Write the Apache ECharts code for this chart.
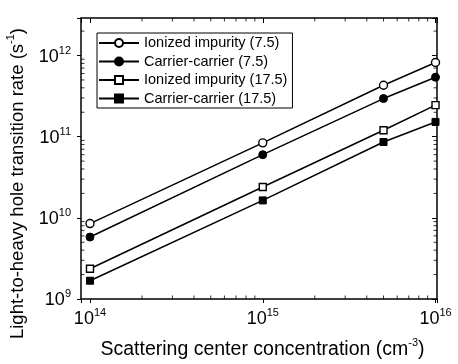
<!DOCTYPE html>
<html>
<head>
<meta charset="utf-8">
<script src="https://cdn.jsdelivr.net/npm/echarts@6/dist/echarts.min.js"></script>
<style>
html,body{margin:0;padding:0;background:#fff}
#chart{width:458px;height:364px}
</style>
</head>
<body>
<div id="chart"></div>
<script>
// data
var concentration = [1e14, 1e15, 5e15, 1e16];
var ionized75 = [8.5e9, 8.4e10, 4.3e11, 8.2e11];
var carrier75 = [5.8e9, 6.0e10, 2.95e11, 5.4e11];
var ionized175 = [2.36e9, 2.4e10, 1.2e11, 2.45e11];
var carrier175 = [1.68e9, 1.64e10, 8.6e10, 1.52e11];
var seriesNames = ['Ionized impurity (7.5)', 'Carrier-carrier (7.5)', 'Ionized impurity (17.5)', 'Carrier-carrier (17.5)'];

var xMin = 8.87e13, xMax = 1.02e16;
var yMin = 1e9, yMax = 2.9e12;
var xDecades = [1e14, 1e15];
var yDecades = [1e9, 1e10, 1e11, 1e12];

// minor ticks 2..9 in each decade
var xMinorTicks = [];
xDecades.forEach(function (d) {
    for (var k = 2; k <= 9; k++) xMinorTicks.push(k * d);
});
var yMinorTicks = [];
yDecades.forEach(function (d) {
    for (var k = 2; k <= 9; k++) if (k * d < yMax) yMinorTicks.push(k * d);
});

var font = 'Liberation Sans, Arial, sans-serif';

function powLabel(v) {
    var lg = Math.log10(v);
    var e = Math.round(lg);
    if (Math.abs(lg - e) > 1e-6) return '';
    return '{b|10}{e|' + e + '}';
}
var powRich = {
    b: {fontSize: 18, fontFamily: font, color: '#000', padding: [3, 0, 0, 0]},
    e: {fontSize: 11, fontFamily: font, color: '#000', verticalAlign: 'top'}
};

function pairs(ys) {
    return concentration.map(function (x, i) { return [x, ys[i]]; });
}

// short tick marks drawn as thin rect symbols sitting on the frame
function tickSeries(data, size, offset) {
    return {
        type: 'scatter', silent: true, clip: false, z: 4,
        symbol: 'rect', symbolSize: size, symbolOffset: offset,
        itemStyle: {color: '#000'},
        data: data
    };
}

var lineStyle = {color: '#000', width: 1.5};
var openStyle = {color: '#fff', borderColor: '#000', borderWidth: 1.4};
var fillStyle = {color: '#000', borderColor: '#000', borderWidth: 1};
var axisLine = {show: true, lineStyle: {color: '#000', width: 1.5}};

var option = {
    backgroundColor: '#fff',
    animation: false,
    textStyle: {fontFamily: font},
    grid: {left: 81, right: 21, top: 18, bottom: 65, outerBoundsMode: 'none'},
    legend: {
        data: seriesNames,
        orient: 'vertical',
        left: 97,
        top: 33,
        itemWidth: 40,
        itemHeight: 10,
        itemGap: 3.5,
        padding: [2.5, 5, 2, 1],
        borderColor: '#000',
        borderWidth: 1,
        textStyle: {fontSize: 14.5, color: '#000', fontFamily: font, lineHeight: 15}
    },
    xAxis: [{
        type: 'log',
        min: xMin,
        max: xMax,
        position: 'bottom',
        name: '{t|Scattering center concentration (cm}{s|-3}{t|)}',
        nameLocation: 'middle',
        nameGap: 38,
        nameTextStyle: {
            padding: [0, 0, 0, 7],
            rich: {
                t: {fontSize: 19.5, fontFamily: font, color: '#000', padding: [3, 0, 0, 0]},
                s: {fontSize: 11, fontFamily: font, color: '#000', verticalAlign: 'top'}
            }
        },
        axisLine: axisLine,
        axisTick: {show: true, inside: false, length: 4, lineStyle: {color: '#000', width: 1}},
        axisLabel: {margin: 8, formatter: powLabel, rich: powRich},
        splitLine: {show: false},
        minorTick: {show: false}
    }, {
        type: 'log',
        min: xMin,
        max: xMax,
        position: 'top',
        axisLine: axisLine,
        axisTick: {show: true, inside: true, length: 5, lineStyle: {color: '#000', width: 1}},
        axisLabel: {show: false},
        splitLine: {show: false}
    }],
    yAxis: [{
        type: 'log',
        min: yMin,
        max: yMax,
        position: 'left',
        name: '{t|Light-to-heavy hole transition rate (s}{s|-1}{t|)}',
        nameLocation: 'middle',
        nameGap: 32,
        nameTextStyle: {
            padding: [0, 50, 0, 0],
            rich: {
                t: {fontSize: 18.5, fontFamily: font, color: '#000', padding: [3, 0, 0, 0]},
                s: {fontSize: 11, fontFamily: font, color: '#000', verticalAlign: 'top'}
            }
        },
        axisLine: axisLine,
        axisTick: {show: true, inside: false, length: 4, lineStyle: {color: '#000', width: 1}},
        axisLabel: {margin: 10, formatter: powLabel, rich: powRich},
        splitLine: {show: false},
        minorTick: {show: false}
    }, {
        type: 'log',
        min: yMin,
        max: yMax,
        position: 'right',
        axisLine: axisLine,
        axisTick: {show: true, inside: true, length: 5, lineStyle: {color: '#000', width: 1}},
        axisLabel: {show: false},
        splitLine: {show: false}
    }],
    series: [
        {
            name: seriesNames[0], type: 'line', data: pairs(ionized75),
            symbol: 'circle', symbolSize: 8, lineStyle: lineStyle, itemStyle: openStyle, z: 5
        },
        {
            name: seriesNames[1], type: 'line', data: pairs(carrier75),
            symbol: 'circle', symbolSize: 8, lineStyle: lineStyle, itemStyle: fillStyle, z: 5
        },
        {
            name: seriesNames[2], type: 'line', data: pairs(ionized175),
            symbol: 'rect', symbolSize: 7, lineStyle: lineStyle, itemStyle: openStyle, z: 5
        },
        {
            name: seriesNames[3], type: 'line', data: pairs(carrier175),
            symbol: 'rect', symbolSize: 7, lineStyle: lineStyle, itemStyle: fillStyle, z: 5
        },
        tickSeries(xMinorTicks.map(function (v) { return [v, yMin]; }), [1, 3.5], [0, -1.75]),
        tickSeries(xMinorTicks.map(function (v) { return [v, yMax]; }), [1, 3.5], [0, 1.75]),
        tickSeries(yMinorTicks.map(function (v) { return [xMin, v]; }), [3.5, 1], [1.75, 0]),
        tickSeries(yMinorTicks.map(function (v) { return [xMax, v]; }), [3.5, 1], [-1.75, 0])
    ]
};

var chart = echarts.init(document.getElementById('chart'));
chart.setOption(option);
</script>
</body>
</html>
